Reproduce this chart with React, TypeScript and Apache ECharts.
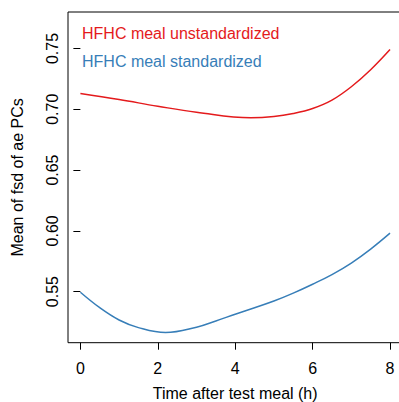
import React, { useEffect, useRef } from "react";
import * as echarts from "echarts";

// Hours after the test meal and mean fsd of ae PCs, unstandardized HFHC meal
const hoursUnstd = [0, 1, 2, 3, 4.4, 5, 5.5, 6, 6.5, 7, 7.5, 8];
const unstandardized = [
  0.7129, 0.708, 0.7025, 0.6976, 0.693, 0.694, 0.6965, 0.7006, 0.7075, 0.7185,
  0.7325, 0.7491,
];

// Hours after the test meal and mean fsd of ae PCs, standardized HFHC meal
const hoursStd = [0, 0.5, 1, 1.5, 2.2, 3, 3.5, 4, 4.5, 5, 5.5, 6, 6.5, 7, 7.5, 8];
const standardized = [
  0.5495, 0.5368, 0.5267, 0.5204, 0.5163, 0.5207, 0.5259, 0.5314, 0.5368,
  0.5423, 0.5488, 0.5561, 0.564, 0.5735, 0.585, 0.5981,
];

const xTicks = [0, 2, 4, 6, 8];
const yTicks = [0.55, 0.6, 0.65, 0.7, 0.75];

const seriesNames = ["HFHC meal unstandardized", "HFHC meal standardized"];
const RED = "#E41A1C";
const BLUE = "#377EB8";
const FONT = "Liberation Sans, Arial, sans-serif";

export default function App() {
  const ref = useRef<HTMLDivElement>(null);

  useEffect(() => {
    if (!ref.current) return;
    const chart = echarts.init(ref.current, null, { renderer: "svg" });
    const pairs = (xs: number[], vals: number[]) => xs.map((h, i) => [h, vals[i]]);

    chart.setOption({
      animation: false,
      backgroundColor: "#ffffff",
      textStyle: { fontFamily: FONT },
      grid: {
        show: true,
        left: 68,
        top: 12,
        right: -3.4,
        bottom: 59.3,
        outerBoundsMode: "none",
        containLabel: false,
        borderColor: "#000",
        borderWidth: 1,
        backgroundColor: "transparent",
      },
      legend: {
        orient: "vertical",
        left: 72,
        top: 20.5,
        icon: "none",
        itemWidth: 0,
        itemHeight: 16,
        itemGap: 11.5,
        selectedMode: false,
        textStyle: { fontSize: 16, fontFamily: FONT },
        data: [
          { name: seriesNames[0], textStyle: { color: RED } },
          { name: seriesNames[1], textStyle: { color: BLUE } },
        ],
      },
      xAxis: {
        type: "value",
        min: -0.32,
        max: 8.32,
        name: "Time after test meal (h)",
        nameLocation: "middle",
        nameGap: 43,
        nameTextStyle: { fontSize: 16, color: "#000", fontFamily: FONT },
        axisLine: { show: false },
        axisTick: {
          show: true,
          length: 7,
          customValues: xTicks,
          lineStyle: { color: "#000", width: 1 },
        },
        axisLabel: {
          customValues: xTicks,
          fontSize: 16,
          color: "#000",
          margin: 18,
          fontFamily: FONT,
        },
        splitLine: { show: false },
      },
      yAxis: {
        type: "value",
        min: 0.508,
        max: 0.78,
        name: "Mean of fsd of ae PCs",
        nameLocation: "middle",
        nameGap: 43,
        nameRotate: 90,
        nameTextStyle: { fontSize: 16, color: "#000", fontFamily: FONT },
        axisLine: { show: false },
        axisTick: {
          show: true,
          length: 7,
          customValues: yTicks,
          lineStyle: { color: "#000", width: 1 },
        },
        axisLabel: {
          customValues: yTicks,
          rotate: 90,
          fontSize: 16,
          color: "#000",
          margin: 8,
          fontFamily: FONT,
          formatter: (v: number) => v.toFixed(2),
        },
        splitLine: { show: false },
      },
      series: [
        {
          name: seriesNames[0],
          type: "line",
          data: pairs(hoursUnstd, unstandardized),
          smooth: 0.4,
          showSymbol: false,
          lineStyle: { color: RED, width: 1.5 },
          itemStyle: { color: RED },
        },
        {
          name: seriesNames[1],
          type: "line",
          data: pairs(hoursStd, standardized),
          smooth: 0.4,
          showSymbol: false,
          lineStyle: { color: BLUE, width: 1.5 },
          itemStyle: { color: BLUE },
        },
      ],
    });

    return () => chart.dispose();
  }, []);

  return (
    <div
      ref={ref}
      style={{ position: "fixed", left: 0, top: 0, width: 399, height: 402 }}
    />
  );
}
